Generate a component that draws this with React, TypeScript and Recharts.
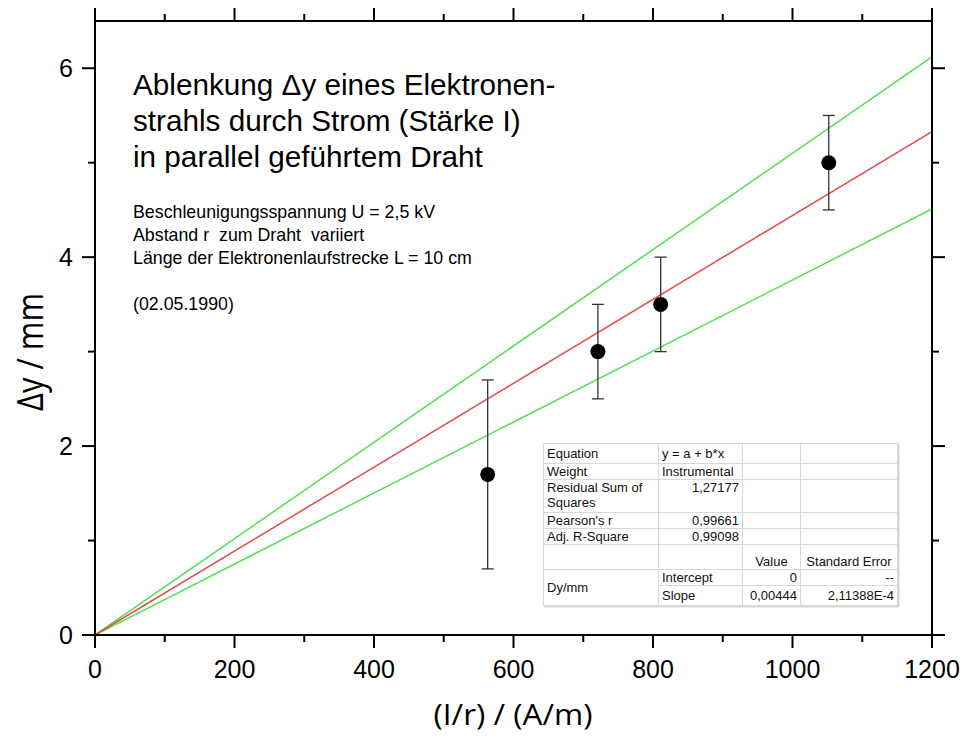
import React from 'react';
import { ComposedChart, XAxis, YAxis, Line, Scatter, ErrorBar, Label } from 'recharts';

// ---- data ----
const xTickValues = [0, 100, 200, 300, 400, 500, 600, 700, 800, 900, 1000, 1100, 1200];
const xMajorTicks = [0, 200, 400, 600, 800, 1000, 1200];
const yTickValues = [0, 1, 2, 3, 4, 5, 6];
const yMajorTicks = [0, 2, 4, 6];

const measX = [563, 721, 811, 1052];
const measY = [1.7, 3.0, 3.5, 5.0];
const measErr = [1.0, 0.5, 0.5, 0.5];

const lineX = [0, 1200];
const fitY = [0, 5.33];
const upperY = [0, 6.12];
const lowerY = [0, 4.51];

const titleLines = ['Ablenkung \u0394y eines Elektronen-', 'strahls durch Strom (St\u00e4rke I)', 'in parallel gef\u00fchrtem Draht'];
const infoLines = ['Beschleunigungsspannung U = 2,5 kV', 'Abstand r  zum Draht  variiert', 'L\u00e4nge der Elektronenlaufstrecke L = 10 cm'];
const dateLine = '(02.05.1990)';

const points = measX.map((x, i) => ({ x, y: measY[i], err: measErr[i] }));
const fitData = lineX.map((x, i) => ({ x, y: fitY[i] }));
const upperData = lineX.map((x, i) => ({ x, y: upperY[i] }));
const lowerData = lineX.map((x, i) => ({ x, y: lowerY[i] }));

const FONT = "'Liberation Sans', Arial, sans-serif";
const MAJOR = 13;
const MINOR = 7;

const BottomTick = (p: any) => {
  const { x, y, payload } = p;
  const major = xMajorTicks.includes(payload.value);
  return (
    <g>
      <line x1={x} y1={y} x2={x} y2={y + (major ? MAJOR : MINOR)} stroke="#000" strokeWidth={2} />
      {major && (
        <text x={x} y={y + 43} textAnchor="middle" fontSize={25} fontFamily={FONT} fill="#000">
          {payload.value}
        </text>
      )}
    </g>
  );
};
const TopTick = (p: any) => {
  const { x, y, payload } = p;
  const major = xMajorTicks.includes(payload.value);
  return <line x1={x} y1={y} x2={x} y2={y - (major ? MAJOR : MINOR)} stroke="#000" strokeWidth={2} />;
};
const LeftTick = (p: any) => {
  const { x, y, payload } = p;
  const major = yMajorTicks.includes(payload.value);
  return (
    <g>
      <line x1={x} y1={y} x2={x - (major ? MAJOR : MINOR)} y2={y} stroke="#000" strokeWidth={2} />
      {major && (
        <text x={x - 22} y={y + 9} textAnchor="end" fontSize={25} fontFamily={FONT} fill="#000">
          {payload.value}
        </text>
      )}
    </g>
  );
};
const RightTick = (p: any) => {
  const { x, y, payload } = p;
  const major = yMajorTicks.includes(payload.value);
  return <line x1={x} y1={y} x2={x + (major ? MAJOR : MINOR)} y2={y} stroke="#000" strokeWidth={2} />;
};

const Dot = (p: any) => <circle cx={p.cx} cy={p.cy} r={7.5} fill="#000" />;

const cellBase: React.CSSProperties = {
  border: '1px solid #d8d8d8',
  padding: '0 3px',
  fontFamily: FONT,
  fontSize: 13,
  color: '#111',
  lineHeight: '15px',
  verticalAlign: 'middle',
  whiteSpace: 'nowrap',
};
const L: React.CSSProperties = { ...cellBase, textAlign: 'left' };
const R: React.CSSProperties = { ...cellBase, textAlign: 'right' };
const C: React.CSSProperties = { ...cellBase, textAlign: 'center' };

export default function App() {
  return (
    <div style={{ position: 'absolute', left: 0, top: 0, width: 963, height: 738, background: '#fff' }}>
      <ComposedChart width={963} height={738} margin={{ top: 8, right: 18, bottom: 3, left: 5 }}>
        <XAxis
          dataKey="x"
          type="number"
          domain={[0, 1200]}
          ticks={xTickValues}
          interval={0}
          allowDataOverflow
          tickSize={0}
          tickMargin={0}
          tickLine={false}
          axisLine={{ stroke: '#000', strokeWidth: 2 }}
          tick={<BottomTick />}
          height={100}
          label={
            <Label
              content={() => (
                <text x={513} y={725} textAnchor="middle" fontSize={30} fontFamily="'Open Sans', sans-serif" fill="#000" textLength={159} lengthAdjust="spacingAndGlyphs">
                  (I/r) / (A/m)
                </text>
              )}
            />
          }
        />
        <XAxis
          xAxisId="top"
          dataKey="x"
          type="number"
          orientation="top"
          domain={[0, 1200]}
          ticks={xTickValues}
          interval={0}
          allowDataOverflow
          tickSize={0}
          tickMargin={0}
          tickLine={false}
          axisLine={{ stroke: '#000', strokeWidth: 2 }}
          tick={<TopTick />}
          height={13}
        />
        <YAxis
          type="number"
          domain={[0, 6.5]}
          ticks={yTickValues}
          interval={0}
          allowDataOverflow
          tickSize={0}
          tickMargin={0}
          tickLine={false}
          axisLine={{ stroke: '#000', strokeWidth: 2 }}
          tick={<LeftTick />}
          width={90}
          label={
            <Label
              content={() => (
                <text x={43} y={352} transform="rotate(-90 43 352)" textAnchor="middle" fontSize={37} fontFamily="'Open Sans', sans-serif" fill="#000" textLength={118} lengthAdjust="spacingAndGlyphs">
                  {'\u0394y / mm'}
                </text>
              )}
            />
          }
        />
        <YAxis
          yAxisId="right"
          orientation="right"
          type="number"
          domain={[0, 6.5]}
          ticks={yTickValues}
          interval={0}
          allowDataOverflow
          tickSize={0}
          tickMargin={0}
          tickLine={false}
          axisLine={{ stroke: '#000', strokeWidth: 2 }}
          tick={<RightTick />}
          width={13}
        />
        <Line data={upperData} dataKey="y" stroke="#4fe04f" strokeWidth={1.5} dot={false} isAnimationActive={false} />
        <Line data={lowerData} dataKey="y" stroke="#4fe04f" strokeWidth={1.5} dot={false} isAnimationActive={false} />
        <Line data={fitData} dataKey="y" stroke="#e84848" strokeWidth={1.5} dot={false} isAnimationActive={false} />
        <Scatter data={points} dataKey="y" shape={<Dot />} isAnimationActive={false}>
          <ErrorBar dataKey="err" direction="y" width={6} stroke="#333" strokeWidth={1.3} isAnimationActive={false} />
        </Scatter>
      </ComposedChart>

      <svg width={963} height={738} style={{ position: 'absolute', left: 0, top: 0, pointerEvents: 'none' }}>
        {titleLines.map((t, i) => (
          <text key={i} x={133} y={95 + i * 36} fontSize={29.7} fontFamily={FONT} fill="#000">
            {t}
          </text>
        ))}
        {infoLines.map((t, i) => (
          <text key={i} x={133} y={218 + i * 23} fontSize={17.8} fontFamily={FONT} fill="#000" style={{ whiteSpace: 'pre' }}>
            {t}
          </text>
        ))}
        <text x={133} y={310} fontSize={17.8} fontFamily={FONT} fill="#000">
          {dateLine}
        </text>
      </svg>

      <table
        style={{
          position: 'absolute',
          left: 543,
          top: 443,
          width: 354,
          height: 160,
          borderCollapse: 'collapse',
          background: '#fff',
          border: '1px solid #999',
          boxShadow: '1px 1px 2px rgba(0,0,0,0.25)',
          tableLayout: 'fixed',
        }}
      >
        <colgroup>
          <col style={{ width: 115 }} />
          <col style={{ width: 84 }} />
          <col style={{ width: 58 }} />
          <col style={{ width: 97 }} />
        </colgroup>
        <tbody>
          <tr style={{ height: 20 }}>
            <td style={L}>Equation</td>
            <td style={L}>y = a + b*x</td>
            <td style={L}></td>
            <td style={L}></td>
          </tr>
          <tr style={{ height: 16 }}>
            <td style={L}>Weight</td>
            <td style={L}>Instrumental</td>
            <td style={L}></td>
            <td style={L}></td>
          </tr>
          <tr style={{ height: 33 }}>
            <td style={{ ...L, whiteSpace: 'normal', verticalAlign: 'top' }}>Residual Sum of Squares</td>
            <td style={{ ...R, verticalAlign: 'top' }}>1,27177</td>
            <td style={L}></td>
            <td style={L}></td>
          </tr>
          <tr style={{ height: 14 }}>
            <td style={L}>Pearson's r</td>
            <td style={R}>0,99661</td>
            <td style={L}></td>
            <td style={L}></td>
          </tr>
          <tr style={{ height: 16 }}>
            <td style={L}>Adj. R-Square</td>
            <td style={R}>0,99098</td>
            <td style={L}></td>
            <td style={L}></td>
          </tr>
          <tr style={{ height: 25 }}>
            <td style={L}></td>
            <td style={L}></td>
            <td style={{ ...C, verticalAlign: 'bottom' }}>Value</td>
            <td style={{ ...C, verticalAlign: 'bottom' }}>Standard Error</td>
          </tr>
          <tr style={{ height: 16 }}>
            <td style={L} rowSpan={2}>Dy/mm</td>
            <td style={L}>Intercept</td>
            <td style={R}>0</td>
            <td style={R}>--</td>
          </tr>
          <tr style={{ height: 20 }}>
            <td style={L}>Slope</td>
            <td style={R}>0,00444</td>
            <td style={R}>2,11388E-4</td>
          </tr>
        </tbody>
      </table>
    </div>
  );
}
